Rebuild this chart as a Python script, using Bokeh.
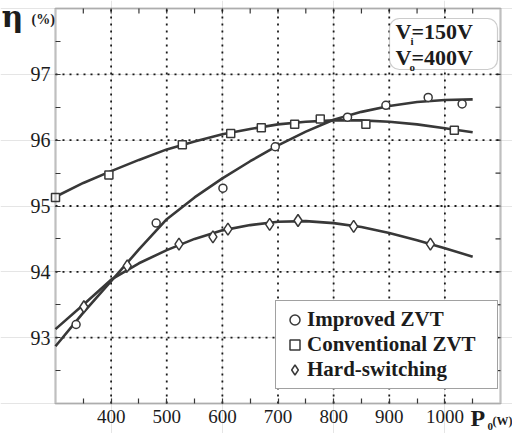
from bokeh.plotting import figure
from bokeh.models import (Range1d, FixedTicker, LinearAxis, Label, BoxAnnotation,
                          Legend, LegendItem)
from bokeh.embed import file_html
from bokeh.resources import INLINE

# ---------------- data ----------------
improved_p = [337, 481, 601, 695, 825, 894, 970, 1031]
improved_eff = [93.20, 94.74, 95.27, 95.90, 96.35, 96.53, 96.65, 96.55]

conventional_p = [300, 396, 528, 615, 670, 730, 776, 858, 1017]
conventional_eff = [95.13, 95.47, 95.93, 96.10, 96.19, 96.24, 96.32, 96.24, 96.15]

hard_p = [351, 429, 522, 583, 610, 685, 736, 836, 974]
hard_eff = [93.47, 94.09, 94.42, 94.53, 94.65, 94.72, 94.78, 94.69, 94.42]

# fitted trend curves, read every 50 W
trend_p = [300, 350, 400, 450, 500, 550, 600, 650, 700, 750, 800, 850, 900, 950, 1000, 1050]
improved_fit = [92.87, 93.38, 93.86, 94.34, 94.80, 95.13, 95.42, 95.68, 95.92, 96.13,
                96.31, 96.43, 96.52, 96.58, 96.61, 96.62]
conventional_fit = [95.14, 95.35, 95.53, 95.70, 95.86, 95.98, 96.09, 96.17, 96.24, 96.28,
                    96.30, 96.30, 96.28, 96.24, 96.18, 96.12]
hard_fit = [93.13, 93.50, 93.88, 94.13, 94.33, 94.50, 94.63, 94.71, 94.76, 94.77,
            94.74, 94.68, 94.59, 94.48, 94.36, 94.23]

series_names = ["Improved ZVT", "Conventional ZVT", "Hard-switching"]

power_ticks = [400, 500, 600, 700, 800, 900, 1000]
power_minor = [350, 450, 550, 650, 750, 850, 950, 1050]
eff_ticks = [93, 94, 95, 96, 97]
eff_minor = [92.5, 93.5, 94.5, 95.5, 96.5, 97.5]

# ---------------- layout ----------------
X_MIN, X_MAX = 300, 1100          # plotting box
Y_MIN, Y_MAX = 92, 98
W, H = 512, 433                   # canvas
BOX_L, BOX_R, BOX_T, BOX_B = 55, 500, 8, 403   # plotting box in canvas pixels
UX = (X_MAX - X_MIN) / (BOX_R - BOX_L)         # data per px
UY = (Y_MAX - Y_MIN) / (BOX_B - BOX_T)
XS, XE = X_MIN - BOX_L * UX, X_MIN + (W - BOX_L) * UX
YE, YS = Y_MAX + BOX_T * UY, Y_MAX - (H - BOX_T) * UY


def dx(px):  # canvas pixel -> data x (annotation placement)
    return X_MIN + (px - BOX_L) * UX


def dy(py):  # canvas pixel -> data y (annotation placement)
    return Y_MAX - (py - BOX_T) * UY


INK = "#1c1c1c"
LINE = "#383838"
SERIF = "Liberation Serif"
TICK = 5  # px

p = figure(width=W, height=H, x_range=Range1d(XS, XE), y_range=Range1d(YS, YE),
           output_backend="svg", toolbar_location=None,
           x_axis_location=None, y_axis_location=None,
           min_border_left=0, min_border_right=0, min_border_top=0, min_border_bottom=0,
           background_fill_color="white", border_fill_color="white")
p.outline_line_color = None


def style_axis(ax, size, standoff):
    ax.axis_line_color = None
    ax.major_tick_in = TICK
    ax.major_tick_out = 0
    ax.minor_tick_in = TICK
    ax.minor_tick_out = 0
    ax.major_tick_line_color = LINE
    ax.minor_tick_line_color = LINE
    ax.major_tick_line_width = 1.2
    ax.minor_tick_line_width = 1.2
    ax.major_label_text_font = SERIF
    ax.major_label_text_font_size = size
    ax.major_label_text_color = INK
    ax.major_label_standoff = standoff


bottom_ax = LinearAxis(ticker=FixedTicker(ticks=power_ticks, minor_ticks=power_minor),
                       fixed_location=Y_MIN)
style_axis(bottom_ax, "19px", 6)
p.add_layout(bottom_ax, "below")

left_ax = LinearAxis(ticker=FixedTicker(ticks=eff_ticks, minor_ticks=eff_minor),
                     fixed_location=X_MIN)
style_axis(left_ax, "20px", 5)
p.add_layout(left_ax, "left")

# mirrored inward ticks on top and right edges
all_px = sorted(power_ticks + power_minor)
all_eff = sorted(eff_ticks + eff_minor)
p.segment(x0=all_px, x1=all_px, y0=[Y_MAX] * len(all_px), y1=[Y_MAX - TICK * UY] * len(all_px),
          line_color=LINE, line_width=1.2)
p.segment(x0=[X_MAX] * len(all_eff), x1=[X_MAX - TICK * UX] * len(all_eff), y0=all_eff, y1=all_eff,
          line_color=LINE, line_width=1.2)

# dotted grid
GRID = dict(line_color="#1a1a1a", line_dash="2 5", line_width=1.8)
p.segment(x0=power_ticks, x1=power_ticks, y0=[Y_MIN] * len(power_ticks),
          y1=[Y_MAX] * len(power_ticks), **GRID)
p.segment(x0=[X_MIN] * len(eff_ticks), x1=[X_MAX] * len(eff_ticks), y0=eff_ticks,
          y1=eff_ticks, **GRID)

# ---------------- curves and markers ----------------
for fit in (improved_fit, conventional_fit, hard_fit):
    p.line(trend_p, fit, line_color=LINE, line_width=2.6)

r_imp = p.scatter(improved_p, improved_eff, marker="circle", size=8,
                  line_color=LINE, line_width=1.5, fill_color="white")
r_con = p.scatter(conventional_p, conventional_eff, marker="square", size=8,
                  line_color=LINE, line_width=1.5, fill_color="white")
r_hard = p.scatter(hard_p, hard_eff, marker="diamond", size=12,
                   line_color=LINE, line_width=1.5, fill_color="white")

# plotting box outline
p.add_layout(BoxAnnotation(left=X_MIN, right=X_MAX, bottom=Y_MIN, top=Y_MAX,
                           fill_alpha=0, line_color="#2a2a2a", line_width=2.2))

legend = Legend(items=[LegendItem(label=series_names[0], renderers=[r_imp]),
                       LegendItem(label=series_names[1], renderers=[r_con]),
                       LegendItem(label=series_names[2], renderers=[r_hard])],
                location=(275, H - 389),
                glyph_width=25, glyph_height=25, spacing=0, padding=6,
                label_standoff=-2, label_width=184,
                label_text_font=SERIF, label_text_font_style="bold",
                label_text_font_size="21px", label_text_color=INK,
                border_line_color="#444444", border_line_width=1.2,
                background_fill_color="white", background_fill_alpha=1.0)
p.add_layout(legend)

# ---------------- annotation box ----------------
p.add_layout(BoxAnnotation(left=dx(389), right=dx(497), top=dy(18), bottom=dy(69),
                           fill_color="white", fill_alpha=1.0, line_color="#555555",
                           line_width=1.2, border_radius=10))


def lab(x, y, text, size, font=SERIF, style="bold", align="left"):
    p.add_layout(Label(x=x, y=y, text=text, text_font=font, text_font_style=style,
                       text_font_size=size, text_color=INK, text_align=align,
                       text_baseline="middle"))


lab(dx(395), dy(31), "V=150V", "22px")
lab(dx(410), dy(40), "i", "11px")
lab(dx(395), dy(57), "V=400V", "22px")
lab(dx(409), dy(66), "o", "11px")

# axis titles
lab(dx(1), dy(16), "η", "30px", font="DejaVu Serif")
lab(dx(31), dy(19), "(%)", "14px")
lab(dx(470), dy(417), "P", "24px")
lab(dx(487), dy(426), "0", "11px")
lab(dx(492), dy(420), "(W)", "12px")

open("out.html", "w").write(file_html(p, INLINE))
